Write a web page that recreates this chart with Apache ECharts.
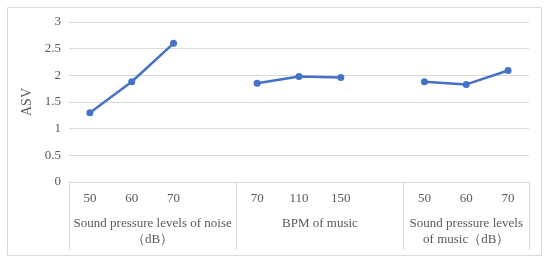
<!DOCTYPE html>
<html>
<head>
<meta charset="utf-8">
<style>
    html,body{margin:0;padding:0;background:#fff;}
    #main{width:550px;height:266px;}
</style>
</head>
<body>
<div id="main"></div>
<script src="https://cdn.jsdelivr.net/npm/echarts@6/dist/echarts.min.js"></script>
<script>
// x categories (empty slot = gap between groups)
var categories = ['50', '60', '70', '', '70', '110', '150', '', '50', '60', '70'];
// ASV values, null where the line breaks
var asv = [1.3, 1.88, 2.6, null, 1.85, 1.98, 1.96, null, 1.88, 1.83, 2.09];
// group labels, placed at the centre of each group (in category units)
var groupNames = ['Sound pressure levels of noise\n（dB）', 'BPM of music', 'Sound pressure levels\nof music（dB）'];
var groupCenters = [2, 6, 9.5];
var groupStarts = [0, 4, 8];

var fontFam = '"Liberation Serif", "Times New Roman", serif';
var txtColor = '#595959';
var gridColor = '#d9d9d9';

var myChart = echarts.init(document.getElementById('main'));

myChart.setOption({
    animation: false,
    graphic: [{
        type: 'rect',
        shape: {x: 7.5, y: 7.5, width: 534, height: 248},
        style: {fill: 'none', stroke: gridColor, lineWidth: 1}
    }],
    grid: {left: 69, right: 21, top: 22, bottom: 84},
    xAxis: [{
        type: 'category',
        data: categories,
        boundaryGap: true,
        axisLine: {show: true, lineStyle: {color: gridColor}},
        axisTick: {
            show: true,
            length: 68,
            lineStyle: {color: gridColor},
            interval: function (index) {
                return groupStarts.indexOf(index) > -1;
            }
        },
        axisLabel: {
            interval: 0,
            margin: 10,
            color: txtColor,
            fontFamily: fontFam,
            fontSize: 13
        }
    }, {
        type: 'value',
        min: 0,
        max: 11,
        interval: 0.5,
        position: 'bottom',
        axisLine: {show: false},
        axisTick: {show: false},
        splitLine: {show: false},
        axisLabel: {
            margin: 34,
            color: txtColor,
            fontFamily: fontFam,
            fontSize: 13,
            lineHeight: 16,
            verticalAlign: 'top',
            formatter: function (v) {
                var i = groupCenters.indexOf(v);
                return i > -1 ? groupNames[i] : '';
            }
        }
    }],
    yAxis: {
        type: 'value',
        min: 0,
        max: 3,
        interval: 0.5,
        name: 'ASV',
        nameLocation: 'middle',
        nameGap: 28,
        nameTextStyle: {color: txtColor, fontFamily: fontFam, fontSize: 14},
        axisLine: {show: false},
        axisTick: {show: false},
        splitLine: {lineStyle: {color: gridColor}},
        axisLabel: {margin: 8, color: txtColor, fontFamily: fontFam, fontSize: 13}
    },
    series: [{
        name: 'ASV',
        type: 'line',
        data: asv,
        connectNulls: false,
        symbol: 'circle',
        symbolSize: 7,
        lineStyle: {color: '#4472c4', width: 2.5},
        itemStyle: {color: '#4472c4'}
    }]
});
</script>
</body>
</html>
